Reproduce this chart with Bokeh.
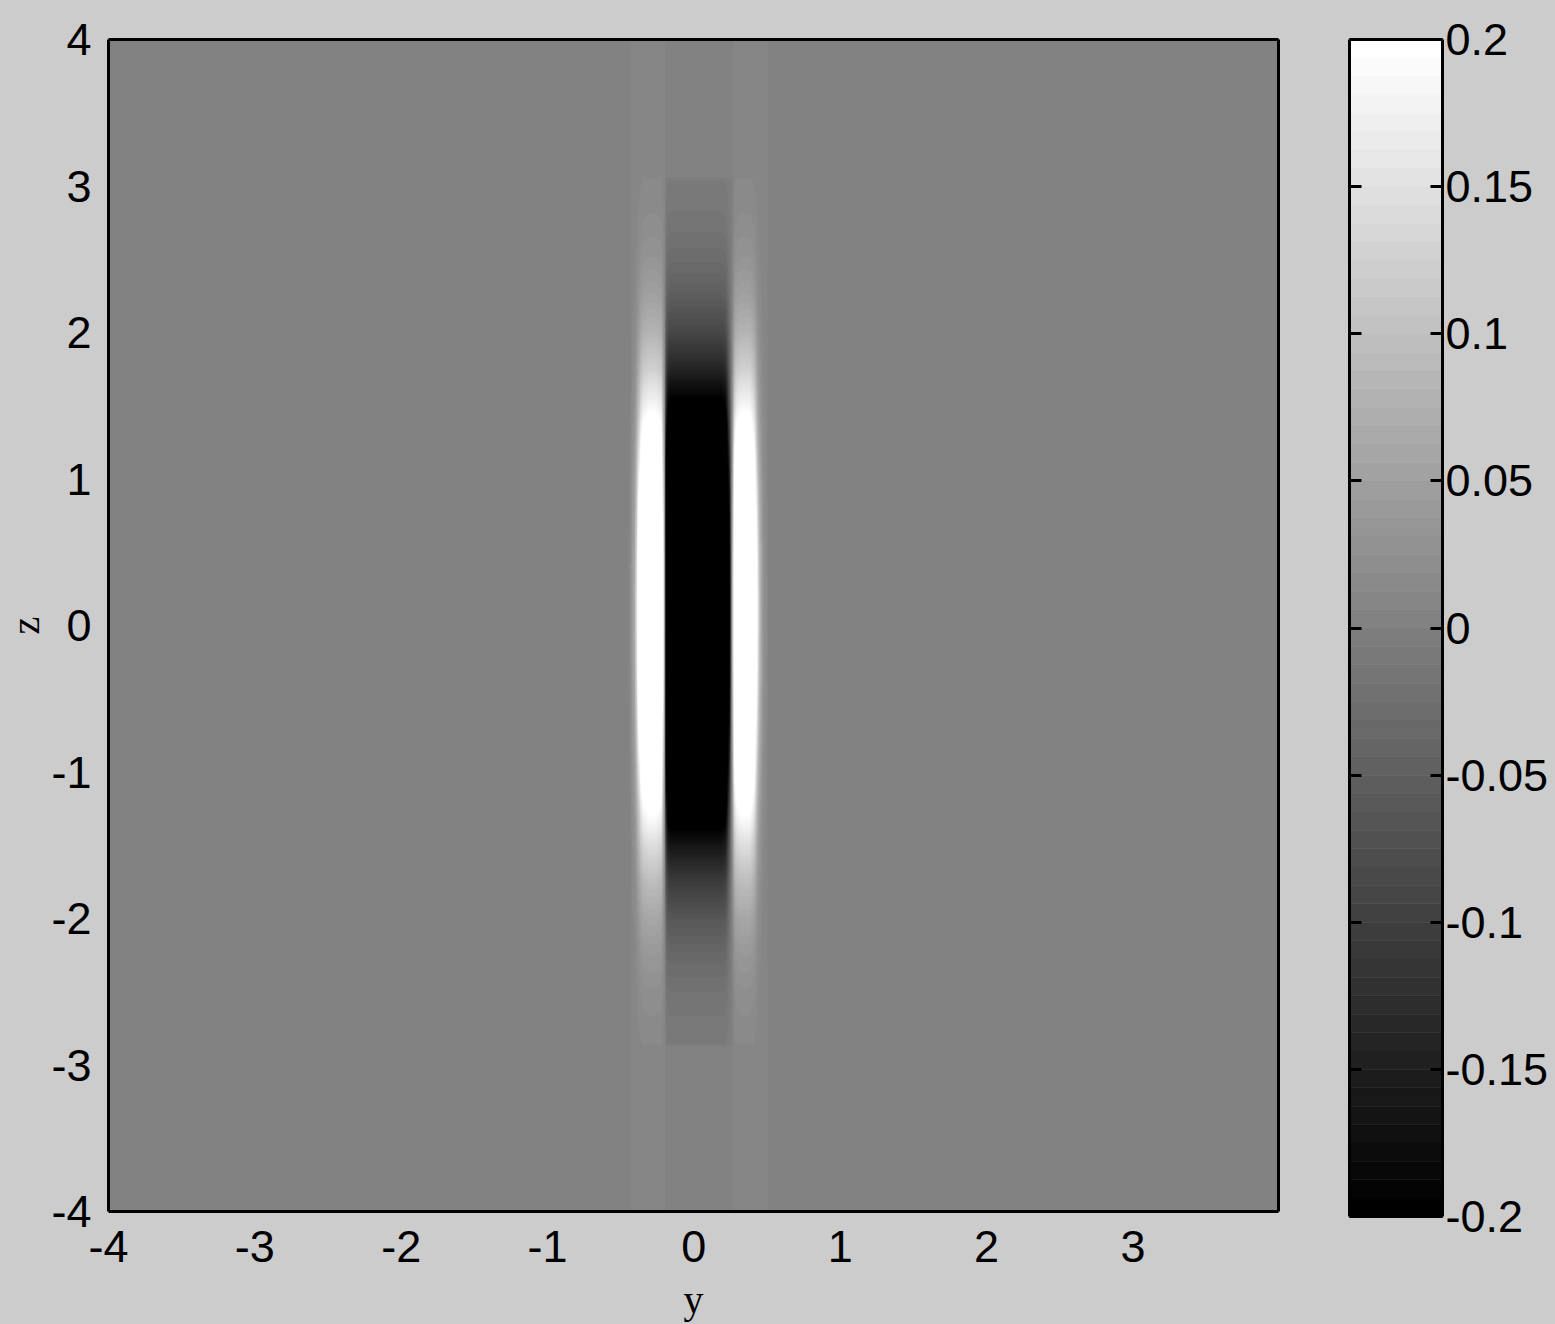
import numpy as np
from bokeh.plotting import figure
from bokeh.models import Range1d, LinearColorMapper, FixedTicker, LinearAxis
from bokeh.layouts import row
from bokeh.embed import file_html
from bokeh.resources import INLINE

# ---------------- data ----------------
x_ticks = [-4, -3, -2, -1, 0, 1, 2, 3]
x_labels = ["-4", "-3", "-2", "-1", "0", "1", "2", "3"]
z_ticks = [-4, -3, -2, -1, 0, 1, 2, 3, 4]
z_labels = ["-4", "-3", "-2", "-1", "0", "1", "2", "3", "4"]
cbar_ticks = [-0.2, -0.15, -0.1, -0.05, 0, 0.05, 0.1, 0.15, 0.2]
cbar_labels = ["-0.2", "-0.15", "-0.1", "-0.05", "0", "0.05", "0.1", "0.15", "0.2"]

x_limits = (-4.0, 3.995)
z_limits = (-4.0, 4.0)
clim = (-0.2, 0.2)
n_levels = 64

# cross-section across y at the centre height (value units)
profile_y = [-0.60, -0.47, -0.44, -0.41, -0.39, -0.37, -0.35, -0.31, -0.26, -0.225,
             -0.205, -0.195, -0.18, -0.16, 0.19, 0.215, 0.235, 0.255, 0.27, 0.285,
             0.32, 0.38, 0.405, 0.425, 0.445, 0.47, 0.51, 0.60]
profile_v = [0.0, 0.0, 0.01, 0.05, 0.15, 0.32, 0.45, 0.50, 0.50, 0.45,
             0.10, -0.30, -0.55, -0.60, -0.60, -0.55, -0.30, 0.0, 0.30, 0.45,
             0.50, 0.50, 0.40, 0.22, 0.09, 0.02, 0.0, 0.0]

# envelope along z (relative strength)
env_z = [-4.0, -2.87, -2.86, -2.75, -2.5, -2.25, -2.0, -1.75, -1.5, -1.25, -1.0,
         -0.75, -0.5, -0.25, 0.0, 0.25, 0.5, 0.75, 1.0, 1.25, 1.5, 1.75, 2.0,
         2.25, 2.5, 2.75, 3.0, 3.05, 3.06, 4.0]
env_v = [0.0, 0.0, 0.011, 0.016, 0.031, 0.059, 0.105, 0.175, 0.273, 0.398, 0.545,
         0.699, 0.839, 0.945, 0.997, 0.985, 0.912, 0.792, 0.644, 0.491, 0.351, 0.234,
         0.147, 0.086, 0.048, 0.025, 0.012, 0.010, 0.0, 0.0]

# faint full-height stripes
band_lo = [-0.43, 0.27]
band_hi = [-0.20, 0.50]
band_level = 0.008

# ---------------- colours ----------------
gray_palette = ["#%02x%02x%02x" % (g, g, g)
                for g in [int(round(i * 255 / (n_levels - 1))) for i in range(n_levels)]]
mapper = LinearColorMapper(palette=gray_palette, low=clim[0], high=clim[1])
zero_idx = int((0 - clim[0]) / (clim[1] - clim[0]) * n_levels)
bg = "#cccccc"
FONT = "Liberation Sans"
LFONT = "Liberation Serif"

# ---------------- field raster ----------------
step = 0.005
gy = np.arange(profile_y[0] + step / 2, profile_y[-1], step)
gz = np.arange(z_limits[0] + step / 2, z_limits[1], step)
band = np.zeros_like(gy)
for lo, hi in zip(band_lo, band_hi):
    band[(gy >= lo) & (gy <= hi)] = band_level
field = band[None, :] + np.interp(gy, profile_y, profile_v)[None, :] * np.interp(gz, env_z, env_v)[:, None]
field = field.astype(np.float32)


def frame_axis(fig, side):
    ax = LinearAxis(ticker=FixedTicker(ticks=[]), major_label_text_font_size="0px",
                    major_tick_in=0, major_tick_out=0, minor_tick_in=0, minor_tick_out=0,
                    major_label_standoff=0, axis_line_color="black", axis_line_width=3)
    fig.add_layout(ax, side)
    return ax


# ---------------- main plot ----------------
p = figure(x_range=Range1d(*x_limits), y_range=Range1d(*z_limits),
           frame_width=1170, frame_height=1172,
           min_border_left=107, min_border_right=23, min_border_top=39, min_border_bottom=113,
           output_backend="svg", toolbar_location=None,
           background_fill_color=gray_palette[zero_idx], border_fill_color=bg)
p.image(image=[field], x=profile_y[0], y=z_limits[0],
        dw=profile_y[-1] - profile_y[0], dh=z_limits[1] - z_limits[0], color_mapper=mapper)
p.grid.visible = False
p.outline_line_color = None
p.xaxis.ticker = FixedTicker(ticks=x_ticks)
p.xaxis.major_label_overrides = dict(zip(x_ticks, x_labels))
p.yaxis.ticker = FixedTicker(ticks=z_ticks)
p.yaxis.major_label_overrides = dict(zip(z_ticks, z_labels))
for ax in (p.xaxis, p.yaxis):
    ax.axis_line_color = "black"
    ax.axis_line_width = 3
    ax.major_tick_out = 0
    ax.major_tick_in = 0
    ax.minor_tick_out = 0
    ax.minor_tick_in = 0
    ax.major_label_text_font = FONT
    ax.major_label_text_font_size = "45px"
    ax.major_label_text_color = "black"
    ax.axis_label_text_font = LFONT
    ax.axis_label_text_font_style = "normal"
    ax.axis_label_text_color = "black"
p.xaxis.major_label_standoff = 19
p.yaxis.major_label_standoff = 17
p.xaxis.axis_label = "y"
p.xaxis.axis_label_text_font_size = "40px"
p.xaxis.axis_label_standoff = 12
p.yaxis.axis_label = "z"
p.yaxis.axis_label_text_font_size = "40px"
p.yaxis.axis_label_standoff = 0
frame_axis(p, "above")
frame_axis(p, "right")

# ---------------- colour bar ----------------
levels = np.linspace(clim[0], clim[1], n_levels + 1)
c = figure(x_range=Range1d(0, 1), y_range=Range1d(*clim),
           frame_width=93, frame_height=1177,
           min_border_left=48, min_border_right=114, min_border_top=39, min_border_bottom=108,
           x_axis_location=None, y_axis_location="right",
           output_backend="svg", toolbar_location=None,
           background_fill_color=bg, border_fill_color=bg)
c.quad(left=0, right=1, bottom=levels[:-1], top=levels[1:],
       fill_color=gray_palette, line_color=gray_palette, line_width=0.5)
c.grid.visible = False
c.outline_line_color = None
ra = c.yaxis[0]
ra.ticker = FixedTicker(ticks=cbar_ticks)
ra.major_label_overrides = dict(zip(cbar_ticks, cbar_labels))
ra.major_label_text_font = FONT
ra.major_label_text_font_size = "45px"
ra.major_label_text_color = "black"
ra.major_label_standoff = 3
la = LinearAxis(ticker=FixedTicker(ticks=cbar_ticks),
                major_label_overrides={t: "" for t in cbar_ticks},
                major_label_text_font_size="0px", major_label_standoff=0)
c.add_layout(la, "left")
for ax in (ra, la):
    ax.axis_line_color = "black"
    ax.axis_line_width = 3
    ax.major_tick_out = 0
    ax.major_tick_in = 12
    ax.major_tick_line_width = 3
    ax.major_tick_line_color = "black"
    ax.minor_tick_out = 0
    ax.minor_tick_in = 0
frame_axis(c, "above")
frame_axis(c, "below")

layout = row(p, c)
html = file_html(layout, INLINE)
html = html.replace("</head>",
                    "<style>html,body{margin:0;padding:0;background:#cccccc;overflow:hidden;}</style></head>", 1)
open("out.html", "w").write(html)
